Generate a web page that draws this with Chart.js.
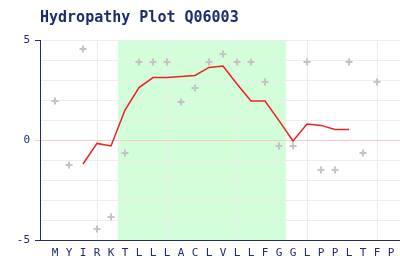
<!DOCTYPE html>
<html>
<head>
<meta charset="utf-8">
<script src="https://cdn.jsdelivr.net/npm/chart.js@4.4.1/dist/chart.umd.min.js"></script>
<style>
  html, body { margin: 0; padding: 0; background: #ffffff; }
  #wrap { width: 400px; height: 260px; position: relative; }
</style>
</head>
<body>
<div id="wrap"><canvas id="c" width="400" height="260"></canvas></div>
<script>
// ---- data ----
const chartTitle = 'Hydropathy Plot Q06003';
const residues = ['M','Y','I','R','K','T','L','L','L','A','C','L','V','L','L','F','G','G','L','P','P','L','T','F','P'];
const residueScores = [1.95,-1.25,4.55,-4.45,-3.85,-0.65,3.9,3.9,3.9,1.9,2.6,3.9,4.3,3.9,3.9,2.9,-0.3,-0.3,3.9,-1.5,-1.5,3.9,-0.65,2.9,null];
const windowStart = 2;
const windowAverage = [-1.2,-0.17,-0.3,1.5,2.62,3.12,3.12,3.18,3.23,3.63,3.7,2.8,1.95,1.95,0.97,-0.05,0.8,0.73,0.53,0.53];
const tmRegion = [5, 16];        // first and last residue index of the shaded segment
const yTickLabels = [5, 0, -5];
const gridEvery = 5, gridOffset = 3;

const NAVY = '#1d2b72';
const scorePoints = residueScores.map((v, i) => ({x: i, y: v})).filter(p => p.y !== null);
const avgPoints = windowAverage.map((v, k) => ({x: windowStart + k, y: v}));

const bandPlugin = {
  id: 'band',
  beforeDraw(chart) {
    const {ctx, chartArea, scales} = chart;
    const x0 = scales.x.getPixelForValue(tmRegion[0] - 0.5);
    const x1 = scales.x.getPixelForValue(tmRegion[1] + 0.5);
    ctx.save();
    ctx.fillStyle = '#d2ffd9';
    ctx.fillRect(x0, chartArea.top, x1 - x0, chartArea.bottom - chartArea.top);
    ctx.restore();
  }
};
const titlePlugin = {
  id: 'titleText',
  afterDraw(chart) {
    const {ctx, chartArea} = chart;
    ctx.save();
    ctx.font = 'bold 15px "DejaVu Sans Mono"';
    ctx.fillStyle = NAVY;
    ctx.textBaseline = 'middle';
    ctx.textAlign = 'left';
    ctx.fillText(chartTitle, chartArea.left, 18);
    ctx.restore();
  }
};

new Chart(document.getElementById('c'), {
  data: {
    datasets: [
      {
        type: 'line',
        data: avgPoints,
        borderColor: 'rgb(238,32,32)',
        borderWidth: 1.5,
        pointRadius: 0,
        tension: 0,
        fill: false,
        clip: false,
        order: 1
      },
      {
        type: 'scatter',
        data: scorePoints,
        pointStyle: 'cross',
        pointRadius: 3.5,
        borderColor: '#c4c4c4',
        backgroundColor: '#c4c4c4',
        borderWidth: 2,
        clip: false,
        order: 2
      }
    ]
  },
  options: {
    responsive: false,
    animation: false,
    devicePixelRatio: 1,
    layout: { autoPadding: false, padding: { top: 40, left: 0, right: 0, bottom: 0 } },
    plugins: { legend: { display: false }, tooltip: { enabled: false }, title: { display: false } },
    scales: {
      x: {
        type: 'linear',
        min: -15 / 14,
        max: 345 / 14,
        afterBuildTicks(scale) { scale.ticks = residues.map((_, i) => ({ value: i })); },
        afterFit(scale) { scale.height = 20; scale.paddingLeft = 0; scale.paddingRight = 0; },
        grid: {
          drawTicks: false,
          color: (c) => (c.tick && (c.tick.value - gridOffset) % gridEvery === 0) ? '#ececec' : 'rgba(0,0,0,0)',
          lineWidth: 1
        },
        border: { color: NAVY, width: 1 },
        ticks: {
          autoSkip: false,
          maxRotation: 0,
          padding: 7,
          color: NAVY,
          font: { family: '"DejaVu Sans Mono"', size: 11 },
          callback: (v) => residues[v] !== undefined ? residues[v] : ''
        }
      },
      y: {
        type: 'linear',
        min: -5,
        max: 5,
        afterFit(scale) { scale.width = 40; scale.paddingTop = 0; scale.paddingBottom = 0; },
        grid: {
          drawTicks: true,
          tickLength: 5,
          color: (c) => c.tick && c.tick.value === 0 ? '#ffc4c4' : '#ececec',
          tickColor: (c) => {
            if (!c.tick) return 'rgba(0,0,0,0)';
            if (c.tick.value === 0) return '#ffc4c4';
            return yTickLabels.includes(c.tick.value) ? NAVY : 'rgba(0,0,0,0)';
          },
          lineWidth: 1
        },
        border: { color: NAVY, width: 1 },
        ticks: {
          stepSize: 1,
          padding: 5,
          color: NAVY,
          font: { family: '"DejaVu Sans Mono"', size: 11 },
          callback: (v) => yTickLabels.includes(v) ? String(v) : ''
        }
      }
    }
  },
  plugins: [bandPlugin, titlePlugin]
});
</script>
</body>
</html>
